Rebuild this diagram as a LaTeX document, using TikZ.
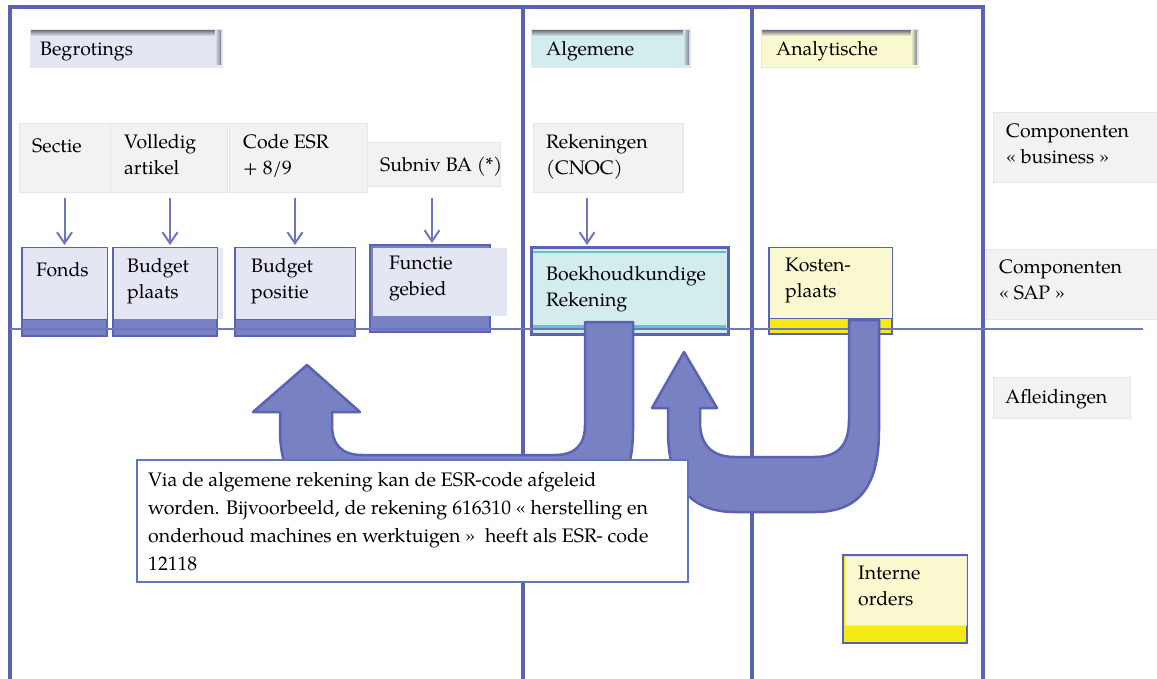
\documentclass[tikz,border=0pt]{standalone}
\usepackage{fontspec}
\setmainfont{TeX Gyre Pagella}
\usetikzlibrary{arrows.meta}
\definecolor{frame}{RGB}{89,98,180}
\definecolor{shaft}{RGB}{120,129,193}
\definecolor{lav}{RGB}{228,230,244}
\definecolor{bizgray}{RGB}{242,242,242}
\definecolor{bizline}{RGB}{226,229,242}
\definecolor{cyanf}{RGB}{211,236,238}
\definecolor{tealc}{RGB}{99,196,204}
\definecolor{lyel}{RGB}{250,248,206}
\definecolor{yel}{RGB}{245,234,20}
\definecolor{arrc}{RGB}{110,118,196}
\definecolor{boxline}{RGB}{96,116,190}
\definecolor{hline}{RGB}{110,118,192}
\definecolor{shadowc}{RGB}{130,132,145}
\begin{document}
\begin{tikzpicture}[x=1pt,y=-1pt,
  frameline/.style={draw=frame,line width=4pt},
  biz/.style={draw=bizline,fill=bizgray,line width=1pt,anchor=north west,inner sep=0pt,outer sep=0pt},
  hdr/.style={draw=bizline,line width=1pt,anchor=north west,inner sep=0pt,outer sep=0pt},
  txt/.style={font=\fontsize{19.5}{26}\selectfont,align=left,inner sep=0pt,anchor=north west,execute at begin node=\strut},
  thinarr/.style={draw=arrc,line width=2pt,-{Straight Barb[length=11pt,width=15pt]}},
  band/.style={draw=frame,fill=shaft,line width=1.5pt,anchor=north west,inner sep=0pt,outer sep=0pt},
  lightpart/.style={fill=lav,draw=frame,line width=1pt},
  bigarrow/.style={draw=frame,fill=shaft,line width=2.5pt,line join=round},
]
\useasboundingbox (0,0) rectangle (1157,679);
\fill[white] (0,0) rectangle (1157,679);

% frame lines
\draw[frameline] (10,679) -- (10,7) -- (983,7) -- (983,679);
\draw[frameline] (523,7) -- (523,679);
\draw[frameline] (752,7) -- (752,679);

% header boxes
\node[hdr,fill=lav,minimum width=192pt,minimum height=38pt] (begr) at (30,30) {};
\shade[top color=shadowc,bottom color=lav] (31,31) rectangle (221,36);
\shade[left color=lav,right color=shadowc] (215,31) rectangle (221,65);
\node[txt] (tbegr) at (40,37.3) {Begrotings};

\node[hdr,fill=cyanf,minimum width=159pt,minimum height=38pt] (alg) at (531,30) {};
\shade[top color=shadowc,bottom color=cyanf] (532,31) rectangle (689,36);
\shade[left color=cyanf,right color=shadowc] (683,31) rectangle (689,65);
\node[txt] (talg) at (546,37.3) {Algemene};

\node[hdr,fill=lyel,minimum width=157pt,minimum height=38pt] (ana) at (761,30) {};
\shade[top color=shadowc,bottom color=lyel] (762,31) rectangle (917,36);
\shade[left color=lyel,right color=shadowc] (911,31) rectangle (917,65);
\node[txt] (tana) at (776,37.3) {Analytische};

% business components
\node[biz,minimum width=91pt,minimum height=69pt] (sectie) at (19,124) {};
\node[txt] (tsectie) at (32,134.3) {Sectie};
\node[biz,minimum width=117pt,minimum height=69pt] (vol) at (110,124) {};
\node[txt] (tvol) at (124,134.3) {Volledig\\artikel};
\node[biz,minimum width=138pt,minimum height=69pt] (esr) at (229,124) {};
\node[txt] (tesr) at (243,134.3) {Code ESR\\+ 8/9};
\node[biz,minimum width=133pt,minimum height=44pt] (sub) at (367,143) {};
\node[txt] (tsub) at (380,153.3) {Subniv BA (*)};
\node[biz,minimum width=150pt,minimum height=69pt] (rek) at (533,124) {};
\node[txt] (trek) at (546,134.3) {Rekeningen\\(CNOC)};

% legend boxes
\node[biz,minimum width=164pt,minimum height=70pt] (compbus) at (993,113) {};
\node[txt] (tcompbus) at (1006,123.3) {Componenten\\« business »};
\node[biz,minimum width=171pt,minimum height=69pt] (compsap) at (986,250) {};
\node[txt] (tcompsap) at (999,259.3) {Componenten\\« SAP »};
\node[biz,minimum width=137pt,minimum height=41pt] (afl) at (993,377) {};
\node[txt] (tafl) at (1005,385.3) {Afleidingen};

% SAP components
\node[band,minimum width=85pt,minimum height=88pt] (fonds) at (22,248) {};
\filldraw[lightpart] (22,248) rectangle (107,319);
\node[txt] (tfonds) at (36,258.3) {Fonds};

\node[band,minimum width=104pt,minimum height=88pt] (bplaats) at (113,248) {};
\fill[lav] (113,248) rectangle (223,319);
\draw[frame,line width=1pt] (113,319) -- (113,248) -- (217,248) -- (217,319);
\node[txt] (tbplaats) at (127,258.3) {Budget\\plaats};

\node[band,minimum width=120pt,minimum height=88pt] (bpos) at (235,248) {};
\filldraw[lightpart] (235,248) rectangle (355,319);
\node[txt] (tbpos) at (251,258.3) {Budget\\positie};

\node[band,minimum width=120pt,minimum height=87pt] (func) at (370,245) {};
\fill[lav] (373,248) rectangle (507,316);
\draw[frame,line width=1pt] (370,316) -- (370,245) -- (490,245);
\node[txt] (tfunc) at (389,256.3) {Functie\\gebied};

\node[draw=frame,line width=3pt,fill=cyanf,minimum width=197pt,minimum height=86pt,anchor=north west,inner sep=0pt,outer sep=0pt] (boek) at (531,248) {};
\draw[tealc,line width=2pt] (533,252) -- (726,252);
\fill[tealc] (533,325) rectangle (726,330);
\node[txt] (tboek) at (546,266.3) {Boekhoudkundige\\Rekening};

\node[draw=frame,line width=2pt,fill=yel,minimum width=123pt,minimum height=86pt,anchor=north west,inner sep=0pt,outer sep=0pt] (kost) at (769,248) {};
\filldraw[fill=lyel,draw=frame,line width=1pt] (769,248) rectangle (892,318);
\node[txt] (tkost) at (785,258.3) {Kosten-\\plaats};

% thin arrows
\draw[thinarr,shorten <=5pt,shorten >=3pt] (sectie.south) -- (sectie.south |- fonds.north);
\draw[thinarr,shorten <=5pt,shorten >=3pt] ([xshift=1.5pt]vol.south) -- ([xshift=1.5pt]vol.south |- bplaats.north);
\draw[thinarr,shorten <=5pt,shorten >=3pt] ([xshift=-3pt]esr.south) -- ([xshift=-3pt]esr.south |- bpos.north);
\draw[thinarr,shorten <=11pt,shorten >=2pt] ([xshift=-1.5pt]sub.south) -- ([xshift=-1.5pt]sub.south |- func.north);
\draw[thinarr,shorten <=5pt,shorten >=3pt] ([xshift=-21pt]rek.south) -- ([xshift=-21pt]rek.south |- boek.north);

% horizontal separator
\draw[hline,line width=1.5pt] (10,329) -- (1143,329);

% big U-turn arrows
\filldraw[bigarrow] (585,322) -- (585,425) .. controls (585,445) and (575,455) .. (555,455)
  -- (362,455) .. controls (342,455) and (332,445) .. (332,425) -- (332,412) -- (360,412)
  -- (307,365) -- (253,412) -- (280,412) -- (280,430)
  .. controls (280,485) and (310,510) .. (360,510) -- (560,510)
  .. controls (610,510) and (633,485) .. (633,430) -- (633,322) -- cycle;
\filldraw[bigarrow] (849,320) -- (849,420) .. controls (849,445) and (838,457) .. (815,457)
  -- (735,457) .. controls (712,457) and (700,445) .. (700,422) -- (700,408) -- (717,408)
  -- (684,352) -- (652,408) -- (668,408) -- (668,430)
  .. controls (668,485) and (690,512) .. (735,512) -- (815,512)
  .. controls (860,512) and (879,485) .. (879,430) -- (879,320) -- cycle;

% note
\node[draw=boxline,fill=white,line width=1.2pt,minimum width=551pt,minimum height=122pt,anchor=north west,inner sep=0pt,outer sep=0pt] (note) at (137,460) {};
\node[txt,font=\fontsize{19.6}{28}\selectfont] (tnote) at (148,472.4) {Via de algemene rekening kan de ESR-code afgeleid\\worden. Bijvoorbeeld, de rekening 616310 « herstelling en\\onderhoud machines en werktuigen »\ \ heeft als ESR- code\\12118};

% interne orders
\node[draw=frame,line width=2pt,fill=yel,minimum width=124pt,minimum height=88pt,anchor=north west,inner sep=0pt,outer sep=0pt] (intern) at (843,555) {};
\filldraw[fill=lyel,draw=bizline,line width=1pt] (845,556) rectangle (966,625);
\node[txt] (tintern) at (858,566.3) {Interne\\orders};
\end{tikzpicture}
\end{document}
